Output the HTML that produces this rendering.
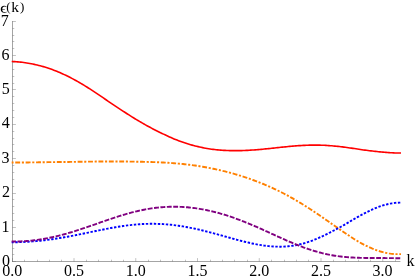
<!DOCTYPE html>
<html><head><meta charset="utf-8"><title>plot</title>
<style>
html,body{margin:0;padding:0;background:#fff;overflow:hidden;}
svg{display:block;will-change:transform;}
text{font-family:"Liberation Serif",serif;fill:#000;}
</style></head>
<body>
<svg width="415" height="280" viewBox="0 0 415 280">
<rect width="415" height="280" fill="#fff"/>
<g stroke="#666" stroke-width="0.6" fill="none">
<path d="M12.0,261.5 H400.40"/>
<path d="M12.5,262.0 V21.00"/>
</g>
<g stroke="#666" stroke-width="0.4" fill="none">
<path d="M12.50,261.5 v-3.4 M24.50,261.5 v-1.8 M37.50,261.5 v-1.8 M49.50,261.5 v-1.8 M61.50,261.5 v-1.8 M74.00,261.5 v-3.4 M86.50,261.5 v-1.8 M98.50,261.5 v-1.8 M111.50,261.5 v-1.8 M123.50,261.5 v-1.8 M135.75,261.5 v-3.4 M148.50,261.5 v-1.8 M160.50,261.5 v-1.8 M172.50,261.5 v-1.8 M185.50,261.5 v-1.8 M197.50,261.5 v-3.4 M210.50,261.5 v-1.8 M222.50,261.5 v-1.8 M234.50,261.5 v-1.8 M247.50,261.5 v-1.8 M259.25,261.5 v-3.4 M271.50,261.5 v-1.8 M284.50,261.5 v-1.8 M296.50,261.5 v-1.8 M308.50,261.5 v-1.8 M321.00,261.5 v-3.4 M333.50,261.5 v-1.8 M345.50,261.5 v-1.8 M358.50,261.5 v-1.8 M370.50,261.5 v-1.8 M382.75,261.5 v-3.4 M395.50,261.5 v-1.8 M12.5,261.50 h3.4 M12.5,254.50 h1.8 M12.5,248.50 h1.8 M12.5,241.50 h1.8 M12.5,234.50 h1.8 M12.5,227.50 h3.4 M12.5,220.50 h1.8 M12.5,213.50 h1.8 M12.5,206.50 h1.8 M12.5,199.50 h1.8 M12.5,193.50 h3.4 M12.5,186.50 h1.8 M12.5,179.50 h1.8 M12.5,172.50 h1.8 M12.5,165.50 h1.8 M12.5,158.50 h3.4 M12.5,151.50 h1.8 M12.5,144.50 h1.8 M12.5,138.50 h1.8 M12.5,131.50 h1.8 M12.5,124.50 h3.4 M12.5,117.50 h1.8 M12.5,110.50 h1.8 M12.5,103.50 h1.8 M12.5,96.50 h1.8 M12.5,89.50 h3.4 M12.5,83.50 h1.8 M12.5,76.50 h1.8 M12.5,69.50 h1.8 M12.5,62.50 h1.8 M12.5,55.50 h3.4 M12.5,48.50 h1.8 M12.5,41.50 h1.8 M12.5,35.50 h1.8 M12.5,28.50 h1.8 M12.5,21.50 h3.4"/>
</g>
<g fill="none" stroke-width="1.9">
<path d="M11.70,61.44 L13.20,61.51 L14.71,61.60 L16.21,61.71 L17.71,61.83 L19.22,61.98 L20.72,62.13 L22.22,62.31 L23.72,62.50 L25.23,62.72 L26.73,62.94 L28.23,63.19 L29.74,63.45 L31.24,63.73 L32.74,64.03 L34.25,64.35 L35.75,64.69 L37.25,65.04 L38.76,65.41 L40.26,65.80 L41.76,66.21 L43.26,66.64 L44.77,67.09 L46.27,67.55 L47.77,68.03 L49.28,68.54 L50.78,69.06 L52.28,69.60 L53.79,70.16 L55.29,70.74 L56.79,71.34 L58.30,71.95 L59.80,72.59 L61.30,73.24 L62.81,73.92 L64.31,74.61 L65.81,75.32 L67.31,76.04 L68.82,76.79 L70.32,77.55 L71.82,78.34 L73.33,79.13 L74.83,79.95 L76.33,80.78 L77.84,81.63 L79.34,82.49 L80.84,83.37 L82.35,84.26 L83.85,85.17 L85.35,86.08 L86.85,87.02 L88.36,87.96 L89.86,88.92 L91.36,89.89 L92.87,90.87 L94.37,91.85 L95.87,92.85 L97.38,93.85 L98.88,94.87 L100.38,95.88 L101.89,96.91 L103.39,97.94 L104.89,98.97 L106.39,100.01 L107.90,101.05 L109.40,102.09 L110.90,103.13 L112.41,104.15 L113.91,105.16 L115.41,106.16 L116.92,107.15 L118.42,108.13 L119.92,109.11 L121.43,110.08 L122.93,111.06 L124.43,112.03 L125.93,113.00 L127.44,113.97 L128.94,114.94 L130.44,115.89 L131.95,116.84 L133.45,117.78 L134.95,118.71 L136.46,119.63 L137.96,120.54 L139.46,121.43 L140.97,122.31 L142.47,123.18 L143.97,124.03 L145.47,124.87 L146.98,125.70 L148.48,126.51 L149.98,127.32 L151.49,128.13 L152.99,128.92 L154.49,129.70 L156.00,130.47 L157.50,131.23 L159.00,131.97 L160.51,132.70 L162.01,133.42 L163.51,134.13 L165.02,134.83 L166.52,135.53 L168.02,136.23 L169.52,136.92 L171.03,137.59 L172.53,138.25 L174.03,138.89 L175.54,139.50 L177.04,140.10 L178.54,140.68 L180.05,141.25 L181.55,141.80 L183.05,142.34 L184.56,142.85 L186.06,143.34 L187.56,143.82 L189.06,144.27 L190.57,144.70 L192.07,145.12 L193.57,145.52 L195.08,145.91 L196.58,146.28 L198.08,146.63 L199.59,146.97 L201.09,147.31 L202.59,147.62 L204.10,147.93 L205.60,148.22 L207.10,148.49 L208.60,148.75 L210.11,148.98 L211.61,149.20 L213.11,149.40 L214.62,149.58 L216.12,149.74 L217.62,149.89 L219.13,150.02 L220.63,150.14 L222.13,150.25 L223.64,150.34 L225.14,150.42 L226.64,150.49 L228.14,150.55 L229.65,150.60 L231.15,150.63 L232.65,150.66 L234.16,150.67 L235.66,150.67 L237.16,150.66 L238.67,150.64 L240.17,150.62 L241.67,150.58 L243.18,150.53 L244.68,150.47 L246.18,150.41 L247.68,150.33 L249.19,150.25 L250.69,150.16 L252.19,150.06 L253.70,149.96 L255.20,149.85 L256.70,149.73 L258.21,149.60 L259.71,149.47 L261.21,149.34 L262.72,149.20 L264.22,149.05 L265.72,148.91 L267.23,148.75 L268.73,148.60 L270.23,148.44 L271.73,148.28 L273.24,148.12 L274.74,147.96 L276.24,147.80 L277.75,147.64 L279.25,147.48 L280.75,147.32 L282.26,147.16 L283.76,147.00 L285.26,146.85 L286.77,146.70 L288.27,146.55 L289.77,146.41 L291.27,146.27 L292.78,146.14 L294.28,146.01 L295.78,145.89 L297.29,145.78 L298.79,145.67 L300.29,145.58 L301.80,145.49 L303.30,145.41 L304.80,145.33 L306.31,145.27 L307.81,145.22 L309.31,145.17 L310.81,145.14 L312.32,145.12 L313.82,145.10 L315.32,145.10 L316.83,145.11 L318.33,145.13 L319.83,145.16 L321.34,145.21 L322.84,145.26 L324.34,145.32 L325.85,145.40 L327.35,145.49 L328.85,145.58 L330.35,145.69 L331.86,145.81 L333.36,145.94 L334.86,146.08 L336.37,146.23 L337.87,146.38 L339.37,146.55 L340.88,146.73 L342.38,146.91 L343.88,147.10 L345.39,147.29 L346.89,147.50 L348.39,147.70 L349.89,147.92 L351.40,148.13 L352.90,148.36 L354.40,148.58 L355.91,148.81 L357.41,149.04 L358.91,149.27 L360.42,149.49 L361.92,149.72 L363.42,149.93 L364.93,150.13 L366.43,150.32 L367.93,150.51 L369.44,150.69 L370.94,150.86 L372.44,151.03 L373.94,151.20 L375.45,151.36 L376.95,151.52 L378.45,151.68 L379.96,151.84 L381.46,151.99 L382.96,152.14 L384.47,152.28 L385.97,152.40 L387.47,152.52 L388.98,152.62 L390.48,152.72 L391.98,152.80 L393.48,152.87 L394.99,152.93 L396.49,152.97 L397.99,153.01 L399.50,153.03 L401.00,153.04" stroke="#ff0000" stroke-width="1.6"/>
<path d="M11.70,162.52 L13.20,162.52 L14.71,162.52 L16.21,162.51 L17.71,162.51 L19.22,162.50 L20.72,162.49 L22.22,162.48 L23.72,162.47 L25.23,162.46 L26.73,162.45 L28.23,162.43 L29.74,162.42 L31.24,162.40 L32.74,162.38 L34.25,162.37 L35.75,162.35 L37.25,162.33 L38.76,162.31 L40.26,162.29 L41.76,162.26 L43.26,162.24 L44.77,162.22 L46.27,162.20 L47.77,162.17 L49.28,162.15 L50.78,162.14 L52.28,162.12 L53.79,162.10 L55.29,162.08 L56.79,162.06 L58.30,162.05 L59.80,162.03 L61.30,162.02 L62.81,162.00 L64.31,161.98 L65.81,161.97 L67.31,161.95 L68.82,161.93 L70.32,161.91 L71.82,161.89 L73.33,161.87 L74.83,161.85 L76.33,161.82 L77.84,161.80 L79.34,161.77 L80.84,161.75 L82.35,161.72 L83.85,161.70 L85.35,161.68 L86.85,161.66 L88.36,161.64 L89.86,161.62 L91.36,161.60 L92.87,161.59 L94.37,161.58 L95.87,161.56 L97.38,161.55 L98.88,161.54 L100.38,161.53 L101.89,161.52 L103.39,161.52 L104.89,161.51 L106.39,161.51 L107.90,161.50 L109.40,161.50 L110.90,161.50 L112.41,161.50 L113.91,161.51 L115.41,161.51 L116.92,161.51 L118.42,161.52 L119.92,161.52 L121.43,161.53 L122.93,161.54 L124.43,161.55 L125.93,161.56 L127.44,161.57 L128.94,161.59 L130.44,161.61 L131.95,161.62 L133.45,161.64 L134.95,161.66 L136.46,161.69 L137.96,161.71 L139.46,161.74 L140.97,161.77 L142.47,161.80 L143.97,161.83 L145.47,161.87 L146.98,161.91 L148.48,161.95 L149.98,162.00 L151.49,162.04 L152.99,162.09 L154.49,162.14 L156.00,162.20 L157.50,162.26 L159.00,162.32 L160.51,162.39 L162.01,162.46 L163.51,162.54 L165.02,162.62 L166.52,162.70 L168.02,162.79 L169.52,162.89 L171.03,162.99 L172.53,163.10 L174.03,163.22 L175.54,163.34 L177.04,163.47 L178.54,163.61 L180.05,163.75 L181.55,163.90 L183.05,164.06 L184.56,164.22 L186.06,164.39 L187.56,164.57 L189.06,164.76 L190.57,164.95 L192.07,165.14 L193.57,165.35 L195.08,165.56 L196.58,165.78 L198.08,166.01 L199.59,166.24 L201.09,166.48 L202.59,166.73 L204.10,166.99 L205.60,167.26 L207.10,167.53 L208.60,167.81 L210.11,168.10 L211.61,168.40 L213.11,168.70 L214.62,169.02 L216.12,169.34 L217.62,169.67 L219.13,170.01 L220.63,170.36 L222.13,170.71 L223.64,171.08 L225.14,171.45 L226.64,171.83 L228.14,172.22 L229.65,172.62 L231.15,173.03 L232.65,173.44 L234.16,173.87 L235.66,174.30 L237.16,174.74 L238.67,175.20 L240.17,175.66 L241.67,176.13 L243.18,176.61 L244.68,177.10 L246.18,177.60 L247.68,178.11 L249.19,178.63 L250.69,179.15 L252.19,179.69 L253.70,180.24 L255.20,180.80 L256.70,181.37 L258.21,181.95 L259.71,182.54 L261.21,183.14 L262.72,183.75 L264.22,184.38 L265.72,185.01 L267.23,185.66 L268.73,186.31 L270.23,186.98 L271.73,187.66 L273.24,188.35 L274.74,189.06 L276.24,189.77 L277.75,190.50 L279.25,191.24 L280.75,191.99 L282.26,192.75 L283.76,193.53 L285.26,194.32 L286.77,195.12 L288.27,195.93 L289.77,196.76 L291.27,197.60 L292.78,198.45 L294.28,199.31 L295.78,200.18 L297.29,201.07 L298.79,201.96 L300.29,202.87 L301.80,203.79 L303.30,204.72 L304.80,205.67 L306.31,206.62 L307.81,207.58 L309.31,208.55 L310.81,209.53 L312.32,210.52 L313.82,211.52 L315.32,212.52 L316.83,213.54 L318.33,214.56 L319.83,215.58 L321.34,216.61 L322.84,217.65 L324.34,218.68 L325.85,219.73 L327.35,220.77 L328.85,221.82 L330.35,222.86 L331.86,223.91 L333.36,224.95 L334.86,225.99 L336.37,227.03 L337.87,228.07 L339.37,229.10 L340.88,230.13 L342.38,231.16 L343.88,232.19 L345.39,233.22 L346.89,234.25 L348.39,235.26 L349.89,236.27 L351.40,237.27 L352.90,238.25 L354.40,239.20 L355.91,240.14 L357.41,241.04 L358.91,241.92 L360.42,242.77 L361.92,243.59 L363.42,244.38 L364.93,245.16 L366.43,245.90 L367.93,246.62 L369.44,247.32 L370.94,247.98 L372.44,248.62 L373.94,249.22 L375.45,249.80 L376.95,250.34 L378.45,250.85 L379.96,251.32 L381.46,251.77 L382.96,252.17 L384.47,252.54 L385.97,252.87 L387.47,253.17 L388.98,253.43 L390.48,253.65 L391.98,253.83 L393.48,253.97 L394.99,254.08 L396.49,254.14 L397.99,254.17 L399.50,254.15 L401.00,254.10" stroke="#ff8000" stroke-dasharray="4.9 1.7 2.1 1.7" stroke-dashoffset="6.85"/>
<path d="M11.70,242.30 L13.20,242.29 L14.71,242.27 L16.21,242.24 L17.71,242.20 L19.22,242.16 L20.72,242.11 L22.22,242.05 L23.72,241.98 L25.23,241.90 L26.73,241.82 L28.23,241.73 L29.74,241.63 L31.24,241.52 L32.74,241.41 L34.25,241.28 L35.75,241.15 L37.25,241.01 L38.76,240.87 L40.26,240.71 L41.76,240.55 L43.26,240.38 L44.77,240.21 L46.27,240.02 L47.77,239.83 L49.28,239.63 L50.78,239.43 L52.28,239.22 L53.79,239.00 L55.29,238.77 L56.79,238.54 L58.30,238.30 L59.80,238.06 L61.30,237.81 L62.81,237.55 L64.31,237.29 L65.81,237.02 L67.31,236.75 L68.82,236.48 L70.32,236.19 L71.82,235.91 L73.33,235.62 L74.83,235.32 L76.33,235.03 L77.84,234.73 L79.34,234.42 L80.84,234.12 L82.35,233.81 L83.85,233.50 L85.35,233.19 L86.85,232.87 L88.36,232.56 L89.86,232.25 L91.36,231.93 L92.87,231.62 L94.37,231.31 L95.87,230.99 L97.38,230.68 L98.88,230.38 L100.38,230.07 L101.89,229.77 L103.39,229.47 L104.89,229.17 L106.39,228.88 L107.90,228.59 L109.40,228.31 L110.90,228.03 L112.41,227.76 L113.91,227.49 L115.41,227.23 L116.92,226.98 L118.42,226.73 L119.92,226.50 L121.43,226.27 L122.93,226.05 L124.43,225.83 L125.93,225.63 L127.44,225.43 L128.94,225.25 L130.44,225.07 L131.95,224.91 L133.45,224.76 L134.95,224.61 L136.46,224.48 L137.96,224.36 L139.46,224.25 L140.97,224.15 L142.47,224.07 L143.97,223.99 L145.47,223.93 L146.98,223.88 L148.48,223.84 L149.98,223.82 L151.49,223.80 L152.99,223.80 L154.49,223.82 L156.00,223.84 L157.50,223.88 L159.00,223.93 L160.51,224.00 L162.01,224.07 L163.51,224.16 L165.02,224.26 L166.52,224.38 L168.02,224.51 L169.52,224.65 L171.03,224.80 L172.53,224.96 L174.03,225.14 L175.54,225.32 L177.04,225.52 L178.54,225.73 L180.05,225.96 L181.55,226.19 L183.05,226.43 L184.56,226.69 L186.06,226.95 L187.56,227.23 L189.06,227.52 L190.57,227.81 L192.07,228.12 L193.57,228.43 L195.08,228.75 L196.58,229.08 L198.08,229.42 L199.59,229.77 L201.09,230.12 L202.59,230.49 L204.10,230.85 L205.60,231.23 L207.10,231.61 L208.60,232.00 L210.11,232.39 L211.61,232.79 L213.11,233.19 L214.62,233.59 L216.12,234.00 L217.62,234.41 L219.13,234.83 L220.63,235.24 L222.13,235.66 L223.64,236.08 L225.14,236.50 L226.64,236.92 L228.14,237.34 L229.65,237.75 L231.15,238.17 L232.65,238.58 L234.16,238.99 L235.66,239.40 L237.16,239.80 L238.67,240.20 L240.17,240.59 L241.67,240.98 L243.18,241.36 L244.68,241.73 L246.18,242.10 L247.68,242.45 L249.19,242.80 L250.69,243.14 L252.19,243.46 L253.70,243.78 L255.20,244.08 L256.70,244.37 L258.21,244.64 L259.71,244.91 L261.21,245.15 L262.72,245.38 L264.22,245.60 L265.72,245.79 L267.23,245.97 L268.73,246.13 L270.23,246.27 L271.73,246.40 L273.24,246.50 L274.74,246.58 L276.24,246.64 L277.75,246.67 L279.25,246.69 L280.75,246.68 L282.26,246.64 L283.76,246.59 L285.26,246.50 L286.77,246.40 L288.27,246.26 L289.77,246.10 L291.27,245.92 L292.78,245.71 L294.28,245.47 L295.78,245.21 L297.29,244.92 L298.79,244.60 L300.29,244.25 L301.80,243.88 L303.30,243.48 L304.80,243.06 L306.31,242.61 L307.81,242.13 L309.31,241.63 L310.81,241.10 L312.32,240.55 L313.82,239.97 L315.32,239.37 L316.83,238.74 L318.33,238.09 L319.83,237.42 L321.34,236.73 L322.84,236.02 L324.34,235.29 L325.85,234.54 L327.35,233.79 L328.85,233.04 L330.35,232.29 L331.86,231.53 L333.36,230.77 L334.86,230.00 L336.37,229.21 L337.87,228.42 L339.37,227.61 L340.88,226.78 L342.38,225.94 L343.88,225.08 L345.39,224.20 L346.89,223.31 L348.39,222.43 L349.89,221.54 L351.40,220.65 L352.90,219.77 L354.40,218.90 L355.91,218.03 L357.41,217.18 L358.91,216.33 L360.42,215.50 L361.92,214.68 L363.42,213.87 L364.93,213.09 L366.43,212.32 L367.93,211.57 L369.44,210.84 L370.94,210.13 L372.44,209.44 L373.94,208.78 L375.45,208.15 L376.95,207.54 L378.45,206.96 L379.96,206.42 L381.46,205.90 L382.96,205.43 L384.47,204.98 L385.97,204.58 L387.47,204.21 L388.98,203.87 L390.48,203.58 L391.98,203.32 L393.48,203.10 L394.99,202.92 L396.49,202.78 L397.99,202.68 L399.50,202.62 L401.00,202.59" stroke="#0000ff" stroke-dasharray="2.4 1.6" stroke-dashoffset="0.4"/>
<path d="M11.70,241.53 L13.20,241.54 L14.71,241.54 L16.21,241.52 L17.71,241.48 L19.22,241.44 L20.72,241.38 L22.22,241.31 L23.72,241.22 L25.23,241.13 L26.73,241.02 L28.23,240.89 L29.74,240.76 L31.24,240.61 L32.74,240.44 L34.25,240.27 L35.75,240.08 L37.25,239.88 L38.76,239.67 L40.26,239.44 L41.76,239.20 L43.26,238.95 L44.77,238.69 L46.27,238.42 L47.77,238.13 L49.28,237.83 L50.78,237.52 L52.28,237.20 L53.79,236.87 L55.29,236.52 L56.79,236.17 L58.30,235.80 L59.80,235.42 L61.30,235.04 L62.81,234.64 L64.31,234.23 L65.81,233.81 L67.31,233.39 L68.82,232.95 L70.32,232.51 L71.82,232.06 L73.33,231.60 L74.83,231.13 L76.33,230.66 L77.84,230.18 L79.34,229.69 L80.84,229.20 L82.35,228.70 L83.85,228.20 L85.35,227.69 L86.85,227.18 L88.36,226.66 L89.86,226.14 L91.36,225.62 L92.87,225.10 L94.37,224.57 L95.87,224.05 L97.38,223.52 L98.88,222.99 L100.38,222.47 L101.89,221.94 L103.39,221.42 L104.89,220.90 L106.39,220.38 L107.90,219.86 L109.40,219.35 L110.90,218.84 L112.41,218.34 L113.91,217.84 L115.41,217.35 L116.92,216.86 L118.42,216.38 L119.92,215.91 L121.43,215.45 L122.93,214.99 L124.43,214.54 L125.93,214.10 L127.44,213.68 L128.94,213.26 L130.44,212.85 L131.95,212.45 L133.45,212.06 L134.95,211.69 L136.46,211.33 L137.96,210.98 L139.46,210.64 L140.97,210.31 L142.47,210.00 L143.97,209.70 L145.47,209.41 L146.98,209.14 L148.48,208.88 L149.98,208.63 L151.49,208.40 L152.99,208.19 L154.49,207.98 L156.00,207.80 L157.50,207.62 L159.00,207.47 L160.51,207.32 L162.01,207.19 L163.51,207.08 L165.02,206.98 L166.52,206.90 L168.02,206.83 L169.52,206.78 L171.03,206.74 L172.53,206.72 L174.03,206.71 L175.54,206.72 L177.04,206.74 L178.54,206.78 L180.05,206.83 L181.55,206.90 L183.05,206.98 L184.56,207.08 L186.06,207.19 L187.56,207.32 L189.06,207.46 L190.57,207.61 L192.07,207.78 L193.57,207.96 L195.08,208.16 L196.58,208.37 L198.08,208.60 L199.59,208.84 L201.09,209.09 L202.59,209.36 L204.10,209.64 L205.60,209.94 L207.10,210.24 L208.60,210.56 L210.11,210.90 L211.61,211.25 L213.11,211.61 L214.62,211.98 L216.12,212.37 L217.62,212.77 L219.13,213.18 L220.63,213.60 L222.13,214.04 L223.64,214.48 L225.14,214.95 L226.64,215.42 L228.14,215.90 L229.65,216.40 L231.15,216.90 L232.65,217.42 L234.16,217.95 L235.66,218.49 L237.16,219.04 L238.67,219.60 L240.17,220.17 L241.67,220.75 L243.18,221.33 L244.68,221.93 L246.18,222.54 L247.68,223.15 L249.19,223.78 L250.69,224.41 L252.19,225.04 L253.70,225.69 L255.20,226.34 L256.70,226.99 L258.21,227.66 L259.71,228.32 L261.21,228.99 L262.72,229.67 L264.22,230.35 L265.72,231.03 L267.23,231.71 L268.73,232.40 L270.23,233.09 L271.73,233.77 L273.24,234.46 L274.74,235.15 L276.24,235.83 L277.75,236.52 L279.25,237.20 L280.75,237.88 L282.26,238.55 L283.76,239.22 L285.26,239.89 L286.77,240.55 L288.27,241.20 L289.77,241.85 L291.27,242.49 L292.78,243.12 L294.28,243.75 L295.78,244.36 L297.29,244.97 L298.79,245.56 L300.29,246.14 L301.80,246.71 L303.30,247.27 L304.80,247.82 L306.31,248.36 L307.81,248.88 L309.31,249.39 L310.81,249.88 L312.32,250.36 L313.82,250.83 L315.32,251.28 L316.83,251.71 L318.33,252.13 L319.83,252.54 L321.34,252.93 L322.84,253.30 L324.34,253.66 L325.85,254.00 L327.35,254.32 L328.85,254.63 L330.35,254.93 L331.86,255.20 L333.36,255.47 L334.86,255.71 L336.37,255.94 L337.87,256.16 L339.37,256.36 L340.88,256.55 L342.38,256.72 L343.88,256.88 L345.39,257.03 L346.89,257.16 L348.39,257.28 L349.89,257.39 L351.40,257.48 L352.90,257.57 L354.40,257.64 L355.91,257.71 L357.41,257.76 L358.91,257.81 L360.42,257.84 L361.92,257.88 L363.42,257.90 L364.93,257.93 L366.43,257.95 L367.93,257.97 L369.44,257.98 L370.94,258.00 L372.44,258.00 L373.94,258.01 L375.45,258.01 L376.95,258.02 L378.45,258.03 L379.96,258.04 L381.46,258.05 L382.96,258.06 L384.47,258.07 L385.97,258.08 L387.47,258.09 L388.98,258.11 L390.48,258.12 L391.98,258.14 L393.48,258.17 L394.99,258.19 L396.49,258.22 L397.99,258.26 L399.50,258.30 L401.00,258.34" stroke="#800080" stroke-dasharray="4.85 1.56" stroke-dashoffset="0.49"/>
</g>
<g font-size="16">
<text x="10.00" y="265.70" text-anchor="end">0</text>
<text x="9.60" y="231.55" text-anchor="end">1</text>
<text x="10.10" y="196.60" text-anchor="end">2</text>
<text x="9.60" y="163.20" text-anchor="end">3</text>
<text x="9.80" y="128.30" text-anchor="end">4</text>
<text x="9.70" y="94.25" text-anchor="end">5</text>
<text x="9.60" y="60.00" text-anchor="end">6</text>
<text x="8.70" y="25.87" text-anchor="end">7</text>
<text x="12.20" y="276.2" text-anchor="middle">0.0</text>
<text x="73.94" y="276.2" text-anchor="middle">0.5</text>
<text x="135.67" y="276.2" text-anchor="middle">1.0</text>
<text x="197.40" y="276.2" text-anchor="middle">1.5</text>
<text x="259.14" y="276.2" text-anchor="middle">2.0</text>
<text x="320.88" y="276.2" text-anchor="middle">2.5</text>
<text x="382.61" y="276.2" text-anchor="middle">3.0</text>
<text x="406.6" y="265.5">k</text>
<path d="M499 -20Q78 -20 78 477Q78 713 186.5 839.0Q295 965 499 965Q582 965 661.0 944.5Q740 924 786 888V828Q748 841 685.5 851.0Q623 861 558 861Q411 861 340.0 780.0Q269 699 260 522H571V442H258Q260 255 333.0 169.5Q406 84 558 84Q619 84 682.0 93.5Q745 103 786 117V57Q740 21 662.5 0.5Q585 -20 499 -20Z" transform="translate(0.103,12.610) scale(0.0083,-0.007)" fill="#000"/>
<text x="6.3" y="11.3" font-size="13">(</text>
<text x="11.3" y="12.4" font-size="15.5">k</text>
<text x="20.1" y="11.3" font-size="13">)</text>
</g>
</svg>
</body></html>
